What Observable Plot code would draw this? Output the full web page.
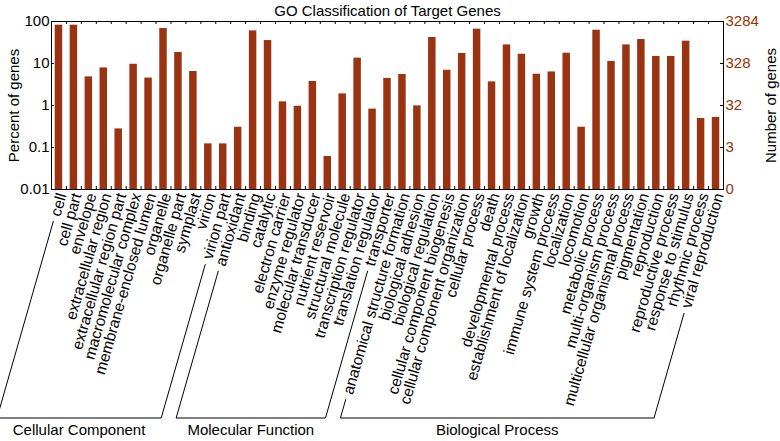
<!DOCTYPE html>
<html>
<head>
<meta charset="utf-8">
<script src="https://cdn.jsdelivr.net/npm/d3@7"></script>
<script src="https://cdn.jsdelivr.net/npm/@observablehq/plot@0.6"></script>
<style>
  html, body { margin: 0; padding: 0; background: #fff; }
  #chart svg { display: block; }
</style>
</head>
<body>
<div id="chart"></div>
<script>
const categories = [
  "cell", "cell part", "envelope", "extracellular region", "extracellular region part",
  "macromolecular complex", "membrane-enclosed lumen", "organelle", "organelle part",
  "symplast", "virion", "virion part",
  "antioxidant", "binding", "catalytic", "electron carrier", "enzyme regulator",
  "molecular transducer", "nutrient reservoir", "structural molecule",
  "transcription regulator", "translation regulator", "transporter",
  "anatomical structure formation", "biological adhesion", "biological regulation",
  "cellular component biogenesis", "cellular component organization", "cellular process",
  "death", "developmental process", "establishment of localization", "growth",
  "immune system process", "localization", "locomotion", "metabolic process",
  "multi-organism process", "multicellular organismal process", "pigmentation",
  "reproduction", "reproductive process", "response to stimulus", "rhythmic process",
  "viral reproduction"
];
const percents = [
  81.6, 81.6, 4.8, 7.85, 0.277, 9.6, 4.5, 68, 18.3, 6.45, 0.122, 0.122,
  0.304, 59.8, 35.2, 1.22, 0.96, 3.73, 0.061, 1.89, 13.4, 0.82, 4.4,
  5.47, 0.98, 41.6, 6.9, 17.3, 65.6, 3.65, 27.7, 16.6, 5.56, 6.3, 17.6, 0.304,
  62, 11.2, 27.7, 37.2, 14.7, 14.7, 34, 0.49, 0.52
];
const groupNames = ["Cellular Component", "Molecular Function", "Biological Process"];
const groupSizes = [12, 11, 22];
const leftTicks = [100, 10, 1, 0.1, 0.01];
const leftLabels = ["100", "10", "1", "0.1", "0.01"];
const rightLabels = ["3284", "328", "32", "3", "0"];
const titleText = "GO Classification of Target Genes";
const yLabelLeft = "Percent of genes";
const yLabelRight = "Number of genes";

const data = categories.map((name, i) => ({name, value: percents[i]}));

const barColor = "#993311";
const rightColor = "#993300";
const font = "'Liberation Sans', Arial, Helvetica, sans-serif";
const W = 780, H = 441, mT = 21, mB = 252, mL = 51, mR = 57;
const frameW = W - mL - mR, frameH = H - mT - mB;
const step = frameW / categories.length;
const labelSize = 15.5;
const angle = 74;

const chart = Plot.plot({
  width: W, height: H,
  marginTop: mT, marginBottom: mB, marginLeft: mL, marginRight: mR,
  style: {fontFamily: font, fontSize: "15px", background: "#fff", color: "#000"},
  x: {domain: categories, paddingInner: 0.5, paddingOuter: 0.25, axis: null},
  y: {type: "log", domain: [0.01, 100], axis: null},
  marks: [
    Plot.barY(data, {x: "name", y1: () => 0.01, y2: "value", fill: barColor}),
    Plot.frame({stroke: "#000", strokeWidth: 1}),
    Plot.ruleX(categories.slice(1), {x: d => d, dx: -step / 2, insetBottom: frameH - 3, stroke: "#000"}),
    Plot.ruleX(categories.slice(1), {x: d => d, dx: -step / 2, insetTop: frameH - 3, stroke: "#000"}),
    Plot.ruleY(leftTicks, {y: d => d, insetRight: frameW - 3, stroke: "#000"}),
    Plot.ruleY(leftTicks, {y: d => d, insetLeft: frameW - 3, stroke: "#000"}),
    Plot.axisY({anchor: "left", ticks: leftTicks, tickFormat: d => leftLabels[leftTicks.indexOf(d)],
      tickSize: 0, tickPadding: 2, label: null, fontSize: 15}),
    Plot.axisY({anchor: "right", ticks: leftTicks, tickFormat: d => rightLabels[leftTicks.indexOf(d)],
      tickSize: 0, tickPadding: 2, label: null, fontSize: 15, color: rightColor}),
    Plot.text(categories, {x: d => d, text: d => d, frameAnchor: "bottom", rotate: -angle,
      textAnchor: "end", lineAnchor: "middle", dx: 3, dy: 4, fontSize: labelSize, fill: "#000"}),
    Plot.text([yLabelLeft], {frameAnchor: "left", textAnchor: "middle", rotate: -90, dx: -37, fontSize: 15, fill: "#000"}),
    Plot.text([yLabelRight], {frameAnchor: "right", textAnchor: "middle", rotate: -90, dx: 48, fontSize: 15, fill: "#000"}),
    Plot.text([titleText], {frameAnchor: "top", dy: -16, fontSize: 15, fill: "#000"})
  ]
});

document.getElementById("chart").append(chart);

const xs = chart.scale("x");
const canvas = document.createElement("canvas");
const ctx = canvas.getContext("2d");
ctx.font = `${labelSize}px ${font}`;
const rad = angle * Math.PI / 180;
const y0 = H - mB + 4;
const yBase = 418;
const gap = 6;
const svg = d3.select(chart);
let start = 0;
groupSizes.forEach((n, g) => {
  const first = categories[start], last = categories[start + n - 1];
  const pt = (cat, y) => {
    const xa = xs.apply(cat) + xs.bandwidth / 2 + 3;
    return [xa - (y - y0) / Math.tan(rad), y];
  };
  const yStart = cat => Math.min(yBase - 12, y0 + (ctx.measureText(cat).width + gap) * Math.sin(rad));
  const a = pt(first, yStart(first)), b = pt(first, yBase);
  const c = pt(last, yBase), d = pt(last, yStart(last));
  svg.append("path")
    .attr("d", `M${a}L${b}L${c}L${d}`)
    .attr("fill", "none").attr("stroke", "#000").attr("stroke-width", 1);
  svg.append("text")
    .attr("x", (b[0] + c[0]) / 2).attr("y", 435)
    .attr("text-anchor", "middle")
    .attr("font-family", font).attr("font-size", 15).attr("fill", "#000")
    .text(groupNames[g]);
  start += n;
});
</script>
</body>
</html>
